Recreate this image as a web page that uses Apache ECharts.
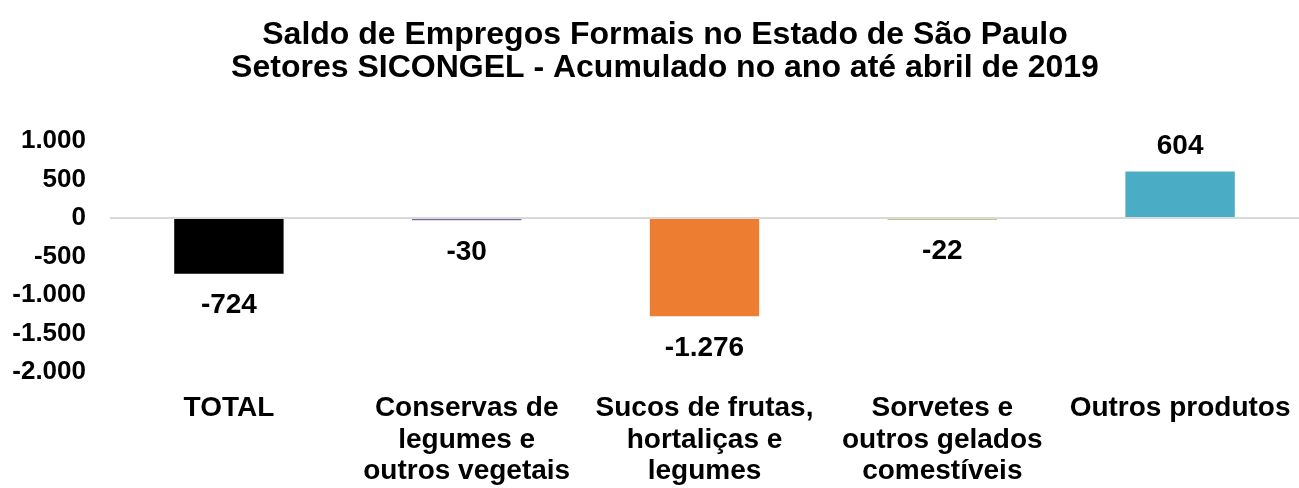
<!DOCTYPE html>
<html>
<head>
<meta charset="utf-8">
<script src="https://cdn.jsdelivr.net/npm/echarts@6/dist/echarts.min.js"></script>
<style>html,body{margin:0;padding:0;background:#fff}#c{width:1299px;height:488px}</style>
</head>
<body>
<div id="c"></div>
<script>
const titleLines = ['Saldo de Empregos Formais no Estado de São Paulo', 'Setores SICONGEL - Acumulado no ano até abril de 2019'];
const categories = ['TOTAL', 'Conservas de\nlegumes e\noutros vegetais', 'Sucos de frutas,\nhortaliças e\nlegumes', 'Sorvetes e\noutros gelados\ncomestíveis', 'Outros produtos'];
const values = [-724, -30, -1276, -22, 604];
const colors = ['#000000', '#8064A2', '#ED7D31', '#9BBB59', '#4BACC6'];
const yMin = -2000, yMax = 1000, yStep = 500;

function fmt(v) {
  const s = Math.abs(v).toString().replace(/\B(?=(\d{3})+(?!\d))/g, '.');
  return (v < 0 ? '-' : '') + s;
}

const chart = echarts.init(document.getElementById('c'));
const font = 'Liberation Sans, Arial, sans-serif';
chart.setOption({
  animation: false,
  title: {
    text: titleLines.join('\n'),
    left: 660, top: 14, textAlign: 'center',
    textStyle: { fontFamily: font, fontWeight: 'bold', fontSize: 32, lineHeight: 33, color: '#000' }
  },
  grid: { left: 110, right: 0, top: 141, bottom: 116 },
  xAxis: {
    type: 'category', data: categories,
    axisLine: { show: false, onZero: false },
    axisTick: { show: false },
    axisLabel: { interval: 0, margin: 21, fontFamily: font, fontWeight: 'bold', fontSize: 28, lineHeight: 31.5, color: '#000' }
  },
  yAxis: {
    type: 'value', min: yMin, max: yMax, interval: yStep,
    splitLine: { show: false },
    axisLine: { show: false }, axisTick: { show: false },
    axisLabel: { margin: 24, fontFamily: font, fontWeight: 'bold', fontSize: 26, color: '#000', formatter: fmt }
  },
  series: [{
    type: 'bar', barWidth: '46%',
    data: values.map((v, i) => ({
      value: v,
      itemStyle: { color: colors[i] },
      label: { distance: v >= 0 ? 11 : 18 }
    })),
    label: {
      show: true, position: 'outside',
      fontFamily: font, fontWeight: 'bold', fontSize: 28, color: '#000',
      formatter: p => fmt(p.value)
    },
    markLine: {
      silent: true, symbol: 'none', label: { show: false },
      lineStyle: { color: '#d9d9d9', width: 2, type: 'solid' },
      data: [{ yAxis: 0 }]
    }
  }]
});
</script>
</body>
</html>
